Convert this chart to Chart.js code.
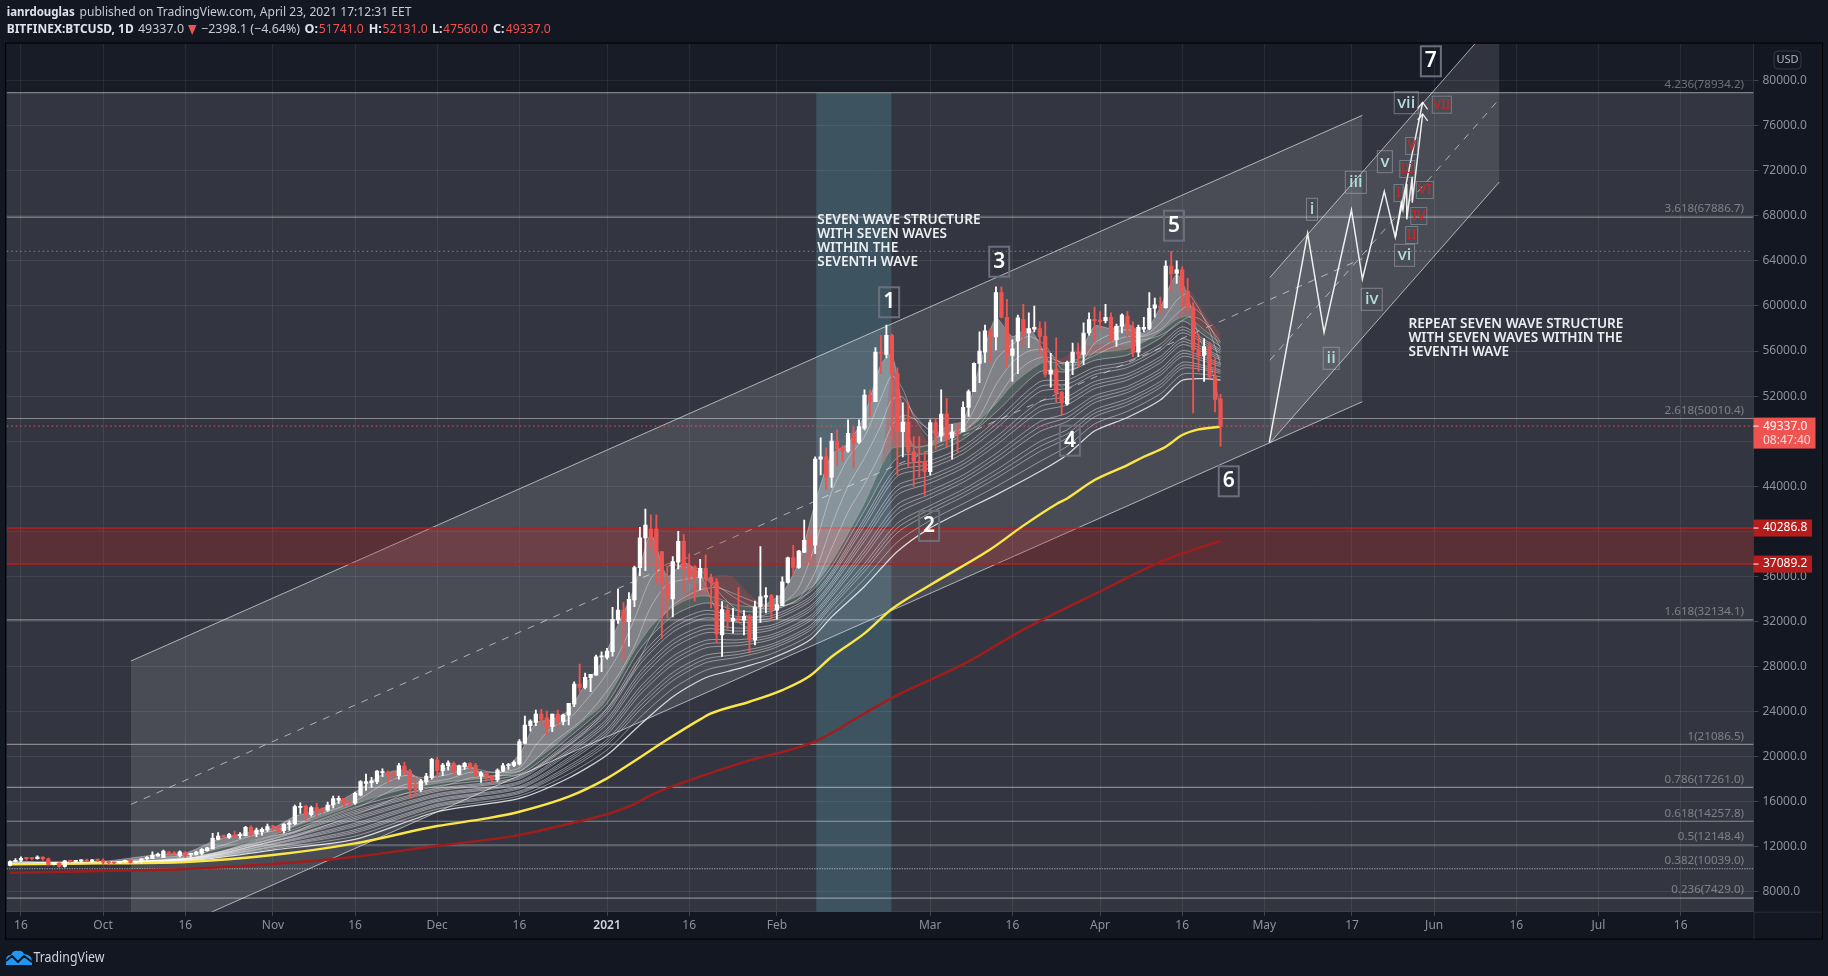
<!DOCTYPE html>
<html><head><meta charset="utf-8">
<style>html,body{margin:0;padding:0;background:#131722;overflow:hidden}canvas{display:block}</style>
<script src="https://cdn.jsdelivr.net/npm/chart.js@4/dist/chart.umd.min.js"></script>
</head><body><canvas id="c" width="1828" height="976"></canvas>
<script>
// ---------- axes ----------
const xMin=-2.6, xMax=316.3, yMin=6226, yMax=83258;
const tickDays=[0,15,30,46,61,76,91,107,122,138,166,181,197,212,227,243,258,273,288,303];
const tickLabels=["16","Oct","16","Nov","16","Dec","16","2021","16","Feb","Mar","16","Apr","16","May","17","Jun","16","Jul","16"];
const priceTicks=[8000,12000,16000,20000,24000,28000,32000,36000,40000,44000,48000,52000,56000,60000,64000,68000,72000,76000,80000];
// ---------- candles, first day is -2 (14 Sep 2020) ----------
const firstDay=-2;
const opens=[
10330,10680,10790,10955,10940,10935,11080,10920,10420,10535,10240,10740,10690,10725,10775,10700,10840,
10780,10620,10575,10550,10670,10790,10600,10670,10925,10960,11160,11050,11520,11463,11225,11520,11285,11285,11390,11640,11790,12650,12940,12825,13030,12970,12970,13713,13120,13328,13476,
13770,13770,13420,13980,14040,15480,15600,14840,15480,15340,15250,15700,16130,16290,15950,15850,16580,17620,17680,17770,18570,18650,18450,18300,19160,18740,17320,17030,17770,18120,
19690,18740,19190,19395,18420,19100,19395,19250,18270,18510,18270,17915,18715,19190,19220,19336,21167,22735,23030,23770,23440,22650,23770,23090,23683,24660,26436,26140,27000,27235,28834,
28800,29307,32119,33007,31971,33895,36760,39400,40200,40200,38200,35400,33990,37260,39100,36850,36850,35900,36700,35900,35500,30800,33000,32050,32350,32100,32500,30350,33300,34150,34300,
33000,33400,35450,37650,36800,38150,39200,38770,46400,46600,44800,48000,47400,47100,48700,47900,49150,52100,51500,55900,55700,57400,54000,48850,49700,47050,46200,46200,
45300,49650,48450,50400,48300,48850,48850,51000,52400,54900,55900,57800,57250,61200,59000,55600,56900,58800,57600,57950,58000,57300,53950,54400,52350,51300,55000,55900,55700,57600,58800,
58750,58700,59000,57000,58200,59100,58000,55900,57950,58000,59800,60000,59850,63550,62900,63200,61300,59900,56100,55600,56400,53700,51741];
const highs=[
10750,10940,11100,11040,11030,11180,11090,10990,10570,10580,10780,10800,10780,10820,10900,10860,10860,
10920,10670,10600,10700,10800,10800,10680,10950,11110,11550,11430,11700,11560,11560,11640,11530,11440,11600,11820,11950,13180,13240,13030,13180,13390,13240,13800,13860,13640,13680,14010,
13900,13850,14050,14300,15700,15900,15700,15600,15850,15450,15950,16480,16490,16300,16050,16850,17860,18450,18150,18750,18900,18700,18740,19400,19480,18860,18210,18000,18500,19850,
19930,19395,19630,19540,19250,19480,19455,19395,18655,18600,18300,18900,19395,19395,19630,21500,23590,23250,24127,24216,24040,23770,24127,23770,24719,26643,28212,27400,27300,29000,29307,
29603,33244,34842,33658,34546,36900,40350,41975,41450,41450,38200,36900,37760,40000,39700,38000,36950,37500,37900,36200,35800,33750,33500,33150,35000,32950,32600,33800,38650,35000,34400,
34300,35950,37700,38750,38300,41000,39750,46600,48300,47400,48700,49000,47600,49900,49300,49900,52550,52550,56300,57400,58300,57500,54500,51400,51400,48400,48400,47100,
49900,50000,52550,51800,49500,49600,51500,52550,54950,57700,58300,58000,61700,61700,60600,57000,59200,60150,59400,60000,58600,58600,55800,57200,52400,55100,56700,56700,58500,59400,59900,
59500,60150,59400,58400,59300,59500,58600,58300,59000,61200,60700,60800,64000,64850,64000,63500,62450,60300,57500,57100,56800,55400,52150];
const lows=[
10280,10640,10670,10790,10820,10900,10780,10370,10370,10150,10190,10630,10640,10620,10690,10650,10690,
10440,10370,10500,10530,10630,10530,10550,10530,10830,10950,11150,11020,11230,11200,11110,11050,11110,11260,11260,11600,11790,12590,12740,12740,12800,12740,12950,12940,12880,13030,13330,
13450,13250,13200,13450,13950,14950,14300,14700,14700,14950,15150,15450,15840,15500,15700,15750,16500,17000,17260,17600,18210,17620,17980,18000,18420,16290,16435,16880,17530,18000,
18210,18300,18800,18510,18360,18860,18800,18210,17710,17830,17560,17800,18650,18860,19100,19250,21167,22260,22735,23000,21848,22200,22560,22800,22800,24423,25696,26000,25755,27235,27531,
28650,28922,31823,28567,29810,33303,36050,36500,38630,35300,30520,32300,32400,36650,34500,35400,33800,34800,34700,33200,30100,28900,31300,30950,31900,30800,29200,29900,31900,32750,32100,
32200,33400,35400,36050,36700,38100,37200,38000,45000,43700,43900,45800,46200,47000,45600,47800,49000,50200,51500,54000,55400,48100,45000,46600,45750,44000,44800,43200,
45000,47280,48000,47400,46400,47000,48850,50200,52400,53200,55000,54900,56100,58950,54500,53300,54000,56500,56300,57700,55600,53700,52800,51500,50300,51200,53900,54600,54800,57400,56800,
57900,58500,56800,56400,57600,57200,55500,55500,57700,57900,59000,59300,59800,61300,62000,59900,59500,50500,54200,53300,53600,50600,47560];
const closes=[
10680,10790,10955,10940,10935,11080,10920,10420,10535,10240,10740,10690,10725,10775,10700,10840,10780,
10620,10575,10550,10670,10790,10600,10670,10925,11060,11256,11337,11610,11345,11374,11550,11225,11404,11520,11760,11900,12736,12940,12880,13090,12880,13030,13713,13120,13476,13535,13772,
13750,13390,13980,14070,15550,15590,14840,15480,15100,15250,15700,16270,16290,15785,15900,16730,17770,17770,17850,18700,18650,18360,18360,19190,18650,17085,17110,17830,18270,19750,
18740,19250,19450,18600,19160,19395,19040,18300,18565,18150,17975,18800,19190,19250,19485,21320,22795,23150,23770,23300,22650,23770,23090,23683,24719,26436,26140,27028,27300,28863,28922,
29366,32178,33007,31971,33954,36766,39428,40560,39400,38130,35400,34050,37300,39100,36650,36000,35850,36700,35750,35450,30880,33050,32000,32300,32250,32450,30350,33300,34200,34300,33000,
33500,35500,37650,36800,38250,39200,38770,46400,46600,44800,48000,47300,47100,48700,47800,49300,52100,51500,55900,55800,57400,54000,48850,49700,47050,46200,46100,45300,
49650,48450,50400,48250,48800,48700,51000,52400,54900,56000,57800,57250,61200,59000,55600,56200,58950,57600,58000,58100,57300,53950,54300,52300,51400,55000,55900,55750,57600,58800,58700,
58600,59000,56900,58200,59200,58000,55900,58100,58100,59800,60100,59850,63550,62850,63200,61300,59900,56100,55600,56400,53700,51700,49337];
// ---------- moving averages ----------
const yellowDays=[-2,15,30,46,61,76,85,91,100,107,112,117,124,126,133,139,144,148,154,159,166,177,183,189,191,196,202,205,209,212,215,219];
const yellowValues=[10425,10514,10632,11254,12290,13830,14510,15100,16434,18062,19600,21200,23300,23829,24865,25901,27144,28861,30933,33100,35230,38400,40500,42400,42917,44545,45877,46617,47505,48541,49044,49281];
const redDays=[-2,15,30,46,61,76,91,99,107,112,115,124,132,145,152,154,160,172,183,198,209,219];
const redValues=[9685,9833,10011,10455,11106,12083,13030,13918,14895,15783,16582,18210,19500,21350,23237,23829,25450,28180,31270,34900,37480,39150];
// ---------- fast ribbon ----------
const fastDays=[-2,5,15,25,30,36,42,46,50,54,58,62,66,70,74,78,82,86,91,94,97,100,103,106,109,112,115,118,121,124,127,130,133,136,139,142,145,148,151,154,157,159,161,163,166,169,172,175,178,181,184,187,190,193,196,199,202,205,208,211,213,215,217,219];
const fast1=[10700,10650,10700,11300,11430,12650,13300,13650,14700,15200,16000,17150,18400,18800,17800,19100,19100,18200,20200,23000,23300,24100,26400,28400,31700,35000,39700,36000,37200,36200,33000,32200,31500,33500,34500,37300,42500,46800,47800,50300,54800,55700,50800,47500,47800,49400,49800,54600,58900,57300,58000,55700,52800,55300,58200,58000,58400,57600,59900,62800,60900,57300,55100,50900];
const fast2=[10650,10620,10640,11000,11250,12000,12950,13400,13900,14800,15450,16300,17500,18300,18100,18400,19000,18600,19000,21000,22600,23300,24900,26700,29000,32200,35800,37100,36800,36600,34800,33300,32400,32600,33500,35000,38800,43500,46500,48400,51800,53800,52600,50200,48300,48700,49200,51800,55200,56600,57300,56500,54400,54600,56700,57500,57900,57400,58500,60500,61100,59800,57800,54800];
const fast3=[10620,10600,10610,10800,11100,11500,12400,12950,13300,14200,14900,15600,16600,17500,17700,18000,18600,18600,18700,19800,21200,22300,23500,25200,27200,29800,33300,35300,35700,35900,35200,34200,33400,33100,33300,34000,36400,40500,44000,46500,49400,51700,51900,50400,48900,48600,48900,50200,53000,55000,56000,56100,54900,54800,55900,56800,57300,57300,57900,59300,60000,59500,58200,56200];
const fast4=[10580,10570,10580,10700,10950,11300,12000,12500,12900,13600,14300,15000,15800,16700,17000,17500,18100,18300,18400,19000,20000,21000,22200,23700,25500,27700,30700,33000,34100,34800,35000,34500,33900,33400,33400,33800,35400,38500,41700,44200,47000,49400,50300,50000,49000,48700,48800,49500,51600,53700,55000,55500,55000,55000,55600,56300,56800,57000,57400,58300,59000,58900,58100,56800];
const slowTop=[10500,10510,10560,10870,11000,11800,12500,13000,13800,14500,15200,15950,16600,17100,17450,17750,17950,18150,18650,19700,20800,22050,23300,24500,26800,29400,31500,32900,33800,34250,34100,33500,33300,33300,33700,34300,35300,37300,39800,42500,45700,47350,47500,47550,47600,48100,48800,49900,51300,53000,54200,55050,54900,55300,55800,56000,56200,56800,57700,58800,59100,58300,57500,56700];
const redBand=[10500,10510,10560,10870,11000,11800,12500,13000,13800,14500,15200,15950,16600,17100,17450,17750,17950,18150,18650,19700,20800,22050,23300,24500,26800,29400,31500,32900,34200,35400,36100,35950,34400,33500,33750,34300,35300,37300,39800,42500,45700,54400,52100,50400,47700,48100,48800,49900,51300,53000,54200,55050,55350,56300,56530,56680,56400,56800,57700,58800,61500,60200,58750,57570];
// ---------- slow ribbon ----------
const slowDays=[-2,30,46,61,76,91,100,107,113,119,125,131,137,144,148,154,160,166,172,178,186,191,196,202,208,212,216,219];
const slow1=[10494,10975,12882,15514,17373,18435,21691,24739,29527,32482,33636,32936,32927,34576,36855,41827,46564,46936,48164,50566,54164,54164,55173,55645,57150,58673,57414,56402];
const slow2=[10488,10950,12764,15228,17146,18220,21332,24278,28854,31764,32972,32422,32504,34152,36410,41154,45728,46272,47528,49832,53278,53428,54546,55090,56600,58146,57028,56104];
const slow2b=[10485,10938,12705,15085,17033,18113,21152,24048,28518,31405,32640,32165,32292,33940,36188,40818,45310,45940,47210,49465,52835,53060,54233,54813,56325,57883,56835,55955];
const slow3=[10482,10925,12646,14942,16919,18005,20973,23817,28181,31046,32308,31908,32081,33728,35965,40481,44892,45608,46892,49098,52392,52692,53919,54535,56050,57619,56642,55806];
const slow4=[10476,10900,12528,14656,16692,17790,20614,23356,27508,30328,31644,31394,31658,33304,35520,39808,44056,44944,46256,48364,51506,51956,53292,53980,55500,57092,56256,55508];
const slow4b=[10473,10888,12469,14513,16579,17683,20434,23126,27172,29969,31312,31137,31446,33092,35298,39472,43638,44612,45938,47997,51063,51588,52979,53703,55225,56829,56063,55359];
const slow5=[10470,10875,12410,14370,16465,17575,20255,22895,26835,29610,30980,30880,31235,32880,35075,39135,43220,44280,45620,47630,50620,51220,52665,53425,54950,56565,55870,55210];
const slow6=[10464,10850,12292,14084,16238,17360,19896,22434,26162,28892,30316,30366,30812,32456,34630,38462,42384,43616,44984,46896,49734,50484,52038,52870,54400,56038,55484,54912];
const slow6b=[10461,10838,12233,13941,16125,17253,19716,22204,25826,28533,29984,30109,30600,32244,34408,38126,41966,43284,44666,46529,49291,50116,51725,52593,54125,55775,55291,54763];
const slow7=[10458,10825,12174,13798,16011,17145,19537,21973,25489,28174,29652,29852,30389,32032,34185,37789,41548,42952,44348,46162,48848,49748,51411,52315,53850,55511,55098,54614];
const slow8=[10452,10800,12056,13512,15784,16930,19178,21512,24816,27456,28988,29338,29966,31608,33740,37116,40712,42288,43712,45428,47962,49012,50784,51760,53300,54984,54712,54316];
const slow8b=[10449,10788,11997,13369,15671,16823,18998,21282,24480,27097,28656,29081,29754,31396,33518,36780,40294,41956,43394,45061,47519,48644,50471,51483,53025,54721,54519,54167];
const slow9=[10446,10775,11938,13226,15557,16715,18819,21051,24143,26738,28324,28824,29543,31184,33295,36443,39876,41624,43076,44694,47076,48276,50157,51205,52750,54457,54326,54018];
const slow10=[10440,10750,11820,12940,15330,16500,18460,20590,23470,26020,27660,28310,29120,30760,32850,35770,39040,40960,42440,43960,46190,47540,49530,50650,52200,53930,53940,53720];
const slowBottom=[10430,10721,11700,12650,15100,16290,18100,20134,22800,25300,27000,27800,28700,30340,32400,35100,38200,40300,41800,43230,45300,46800,48900,50100,51650,53400,53550,53425];
const slowGroup=[slow2,slow2b,slow3,slow4,slow4b,slow5,slow6,slow6b,slow7,slow8,slow8b,slow9,slow10];
// ---------- drawings ----------
const bigChannelDays=[20.08,244.9];
const bigUpper=[28482,76928], bigMid=[15751,64215], bigLower=[3020,51502];
const newChannelDays=[228,269.9];
const newUpper=[62528,85744], newMid=[55181,78375], newLower=[47835,71007];
const waveDays=[227.9,234.9,237.9,242.9,244.9,248.9,250.9,255.9];
const waveValues=[47897,66452,57662,68521,62395,70181,66097,78082];
const subDays=[250.9,252,252.3,253,253,254,254,255.9];
const subValues=[66097,69169,68525,70829,67695,71477,69169,77044];
const fibLevels=[78934.2,67886.7,50010.4,32134.1,21086.5,17261,14257.8,12148.4,10039,7429];
const fibNames=["4.236","3.618","2.618","1.618","1","0.786","0.618","0.5","0.382","0.236"];
const highLine=64855, lastPrice=49337, zoneTop=40286.8, zoneBottom=37089.2;
const blueZoneDays=[145.2,158.9];
const waveNumbers=["1","2","3","4","5","6","7"];
const waveNumberDays=[158.5,165.8,178.6,191.5,210.5,220.5,257.4];
const waveNumberValues=[60327,40470,63931,48040,67127,44435,81722];
const minorNames=["i","ii","iii","iv","v","vi","vii"];
const minorDays=[235.7,239.2,243.7,246.6,249,252.6,252.9];
const minorValues=[68583,55355,70980,60593,72809,64499,78047];
const subNames=["I","II","III","IV","V","VI","VII"];
const subLabelDays=[251.5,253.9,253.1,255.2,253.9,256.3,259.4];
const subLabelValues=[70030,66301,72161,67988,74203,70296,77869];
const noteA=["SEVEN WAVE STRUCTURE","WITH SEVEN WAVES","WITHIN THE","SEVENTH WAVE"];
const noteB=["REPEAT SEVEN WAVE STRUCTURE","WITH SEVEN WAVES WITHIN THE","SEVENTH WAVE"];

// ---------- build ----------
const FONT='"Noto Sans"';
const WHITE='#ffffff', DOWN='#ef5350';
const pts=(xs,ys)=>xs.map((x,i)=>({x,y:ys[i]}));
const datasets=[];
function add(o){o.order=1000-datasets.length;datasets.push(o);return datasets.length-1;}
function line(xs,ys,color,width,extra){
  return add(Object.assign({type:'line',data:pts(xs,ys),borderColor:color,borderWidth:width,pointRadius:0,fill:false,tension:0},extra||{}));
}
const span=[xMin,xMax];
// channels
const bigLow=line(bigChannelDays,bigLower,'rgba(255,255,255,.6)',1);
line(bigChannelDays,bigUpper,'rgba(255,255,255,.6)',1,{fill:{target:bigLow,above:'rgba(255,255,255,.113)',below:'rgba(255,255,255,.113)'}});
line(bigChannelDays,bigMid,'rgba(255,255,255,.55)',1,{borderDash:[7,7]});
const newLow=line(newChannelDays,newLower,'rgba(255,255,255,.6)',1);
line(newChannelDays,newUpper,'rgba(255,255,255,.6)',1,{fill:{target:newLow,above:'rgba(255,255,255,.11)',below:'rgba(255,255,255,.11)'}});
line(newChannelDays,newMid,'rgba(255,255,255,.55)',1,{borderDash:[7,7]});
// zone + levels
const zb=line(span,[zoneBottom,zoneBottom],'#b71c1c',1.5);
line(span,[zoneTop,zoneTop],'#b71c1c',1.5,{fill:{target:zb,above:'rgba(212,28,26,.24)',below:'rgba(212,28,26,.24)'}});
fibLevels.forEach(v=>line(span,[v,v],v===10039?'rgba(255,255,255,.6)':'rgba(255,255,255,.42)',1.2,v===10039?{borderDash:[1.2,1.3]}:{}));
line([xMin,315.9],[highLine,highLine],'rgba(255,255,255,.38)',1,{borderDash:[1.5,3]});
line(span,[lastPrice,lastPrice],'#ef5350',1,{borderDash:[1.5,3]});
// ribbon
const T=.25;
const gLine=line(fastDays,slowTop,'rgba(170,200,175,.45)',1,{tension:T});
const s1Line=line(slowDays,slow1,'rgba(255,255,255,.42)',1,{tension:T});
// green band on top of the slow group
line(fastDays,slowTop,'rgba(0,0,0,0)',0,{tension:T,fill:{target:s1Line,above:'rgba(120,170,135,.2)',below:'rgba(0,0,0,0)'}});
slowGroup.forEach(a=>line(slowDays,a,'rgba(255,255,255,.42)',1,{tension:T}));
line(slowDays,slowBottom,'rgba(255,255,255,.8)',1.2,{tension:T});
line(fastDays,fast1,'rgba(255,255,255,.3)',1,{tension:T,fill:{target:gLine,above:'rgba(255,255,255,.3)',below:'rgba(0,0,0,0)'}});
line(fastDays,redBand,'rgba(0,0,0,0)',0,{tension:T,fill:{target:gLine,above:'rgba(205,65,65,.27)',below:'rgba(0,0,0,0)'}});
[fast2,fast3,fast4].forEach(a=>line(fastDays,a,'rgba(255,255,255,.35)',1,{tension:T}));
// long averages
line(redDays,redValues,'#a31c1c',2.4,{cubicInterpolationMode:'monotone'});
line(yellowDays,yellowValues,'#fbe647',2.4,{cubicInterpolationMode:'monotone'});
// candles
const candleDays=closes.map((_,i)=>firstDay+i);
const col=ctx=>closes[ctx.dataIndex]>=opens[ctx.dataIndex]?WHITE:DOWN;
add({type:'bar',grouped:false,barThickness:1.2,borderWidth:0,backgroundColor:col,data:candleDays.map((x,i)=>({x,y:[lows[i],highs[i]]}))});
add({type:'bar',grouped:false,barThickness:3.6,borderWidth:0,minBarLength:1.2,backgroundColor:col,data:candleDays.map((x,i)=>({x,y:[opens[i],closes[i]]}))});
// projected waves
line(waveDays,waveValues,'rgba(255,255,255,.9)',1.5);
line(subDays,subValues,'rgba(255,255,255,.9)',1.5);

function txt(c,s,x,y,font,color,align,maxW){
  c.font=font;c.fillStyle=color;c.textAlign=align||'left';c.textBaseline='middle';
  if(maxW)c.fillText(s,x,y,maxW);else c.fillText(s,x,y);
}
function frame(c,x,y,w,h,color,lw){c.strokeStyle=color;c.lineWidth=lw;c.strokeRect(x-w/2,y-h/2,w,h);}
const artwork={
  id:'artwork',
  beforeDraw(ch){
    const c=ch.ctx,a=ch.chartArea;
    c.save();
    c.fillStyle='#131722';c.fillRect(0,0,1828,976);
    c.fillStyle='#181c27';c.fillRect(a.left,a.top,a.right-a.left,a.bottom-a.top);
    c.restore();
  },
  beforeDatasetsDraw(ch){
    const c=ch.ctx,a=ch.chartArea,x=ch.scales.x,y=ch.scales.y;
    c.save();
    const top=y.getPixelForValue(fibLevels[0]);
    c.fillStyle='rgba(255,255,255,.117)';c.fillRect(a.left,top,a.right-a.left,a.bottom-top);
    const l=x.getPixelForValue(blueZoneDays[0]),r=x.getPixelForValue(blueZoneDays[1]);
    c.fillStyle='rgba(91,151,171,.3)';c.fillRect(l,top,r-l,a.bottom-top);
    c.restore();
  },
  afterDraw(ch){
    const c=ch.ctx,a=ch.chartArea,x=ch.scales.x,y=ch.scales.y;
    const X=v=>x.getPixelForValue(v),Y=v=>y.getPixelForValue(v);
    c.save();
    // frame
    c.strokeStyle='#000';c.lineWidth=1;c.strokeRect(5.5,43,1817,896);
    c.strokeStyle='#2a2e39';c.beginPath();c.moveTo(a.right+.5,a.bottom);c.lineTo(a.right+.5,939);c.moveTo(a.right,a.bottom+.5);c.lineTo(1822,a.bottom+.5);c.stroke();
    // fib labels
    fibLevels.forEach((v,i)=>{
      txt(c,fibNames[i]+'('+v.toFixed(1)+')',1744,Y(v)-8,'11.6px '+FONT,'rgba(255,255,255,.36)','right');
    });
    // notes
    noteA.forEach((s,i)=>txt(c,s,817.3,220+i*14,'600 13.6px '+FONT,'#eceff1','left'));
    noteB.forEach((s,i)=>txt(c,s,1408.4,324.3+i*14,'600 13.6px '+FONT,'#eceff1','left'));
    // wave numbers
    waveNumbers.forEach((s,i)=>{
      const px=X(waveNumberDays[i]),py=Y(waveNumberValues[i]);
      frame(c,px,py,20,30,'#6b6f7b',2);
      txt(c,s,px,py,'600 21px '+FONT,'#ffffff','center');
    });
    // minor labels
    const mw=[11,16,21,21,15,20,24];
    minorNames.forEach((s,i)=>{
      const px=X(minorDays[i]),py=Y(minorValues[i]);
      frame(c,px,py,mw[i],22,'rgba(190,195,205,.45)',1);
      txt(c,s,px,py,'500 17px '+FONT,'#b2dfdb','center',mw[i]-2);
    });
    const sw=[9,12,15,16,12,17,19];
    subNames.forEach((s,i)=>{
      const px=X(subLabelDays[i]),py=Y(subLabelValues[i]);
      frame(c,px,py,sw[i],17,'rgba(190,195,205,.4)',1);
      txt(c,s,px,py,'500 14px '+FONT,'#c62828','center',sw[i]-2);
    });
    // arrow heads
    c.strokeStyle='rgba(255,255,255,.9)';c.lineWidth=1.3;
    [[waveDays[7],waveValues[7]],[subDays[7],subValues[7]]].forEach(p=>{
      const px=X(p[0]),py=Y(p[1]);
      c.beginPath();c.moveTo(px-5,py+6);c.lineTo(px,py);c.lineTo(px+5,py+7);c.stroke();
    });
    // price scale tags
    const tag=(v,bg,w,h,dy)=>{c.fillStyle=bg;c.fillRect(a.right,Y(v)-dy,w,h);c.fillStyle='#fff';c.fillRect(a.right,Y(v)-.5,5,1);};
    tag(lastPrice,'#ef5350',62,31,8.5);
    txt(c,'49337.0',1763,Y(lastPrice),'12px '+FONT,'#ffffff');
    txt(c,'08:47:40',1763,Y(lastPrice)+14,'12px '+FONT,'rgba(255,255,255,.8)');
    tag(zoneTop,'#b71c1c',58.5,17,8.5);
    txt(c,'40286.8',1763,Y(zoneTop),'12px '+FONT,'#ffffff');
    tag(zoneBottom,'#b71c1c',58.5,17,8.5);
    txt(c,'37089.2',1763,Y(zoneBottom),'12px '+FONT,'#ffffff');
    // USD
    c.strokeStyle='#363a45';c.lineWidth=1;c.beginPath();c.roundRect(1774,51,27,18,4);c.stroke();
    txt(c,'USD',1787.5,60,'11px '+FONT,'#b2b5be','center');
    // header
    const hf='12.5px '+FONT,hb='bold 12.5px '+FONT,grey='#c8cbd3',red='#ef5350';
    txt(c,'ianrdouglas',6.7,12.7,hb,'#e0e3eb','left',68);
    txt(c,'published on TradingView.com, April 23, 2021 17:12:31 EET',79.5,12.7,hf,grey,'left',332);
    txt(c,'BITFINEX:BTCUSD, 1D',6.7,29.7,hb,'#e0e3eb','left',127);
    txt(c,'49337.0',138,29.7,hf,grey,'left',46);
    c.fillStyle='#ef5350';c.beginPath();c.moveTo(188,25);c.lineTo(196.5,25);c.lineTo(192.2,35);c.fill();
    txt(c,'\u22122398.1 (\u22124.64%)',201,29.7,hf,grey,'left',99);
    [['O:',304.5,'51741.0',318.8],['H:',368.8,'52131.0',382.6],['L:',432,'47560.0',443],['C:',493,'49337.0',505.8]].forEach(r=>{
      txt(c,r[0],r[1],29.7,hb,'#e0e3eb');
      txt(c,r[2],r[3],29.7,hf,red,'left',45);
    });
    // logo
    c.fillStyle='#2196f3';
    c.beginPath();c.moveTo(6,965);c.lineTo(6,960);c.quadraticCurveTo(6,955,11,955);c.quadraticCurveTo(13,950,18,951);c.quadraticCurveTo(22,950,24,954);c.quadraticCurveTo(32,955,32,961);c.lineTo(32,965);c.closePath();c.fill();
    c.strokeStyle='#131722';c.lineWidth=2;c.lineJoin='round';c.beginPath();c.moveTo(6,961);c.lineTo(12,956);c.lineTo(18,962);c.lineTo(24,956);c.lineTo(32,962);c.stroke();
    txt(c,'TradingView',33.5,957.7,'14px '+FONT,'#d1d4dc','left',71);
    c.restore();
  }
};

new Chart(document.getElementById('c'),{
  type:'bar',
  data:{datasets},
  plugins:[artwork],
  options:{
    responsive:false,animation:false,devicePixelRatio:1,
    layout:{padding:{left:6.7,right:6,top:44,bottom:37}},
    plugins:{legend:{display:false},tooltip:{enabled:false},title:{display:false}},
    scales:{
      x:{type:'linear',offset:false,min:xMin,max:xMax,
        grid:{offset:false,color:'rgba(255,255,255,.075)',tickColor:'rgba(255,255,255,.2)',tickLength:4},
        border:{color:'#2a2e39'},
        afterBuildTicks(s){s.ticks=tickDays.map(value=>({value}));},
        afterFit(s){s.height=27.3;},
        ticks:{autoSkip:false,maxRotation:0,padding:3,
          color:c=>c.tick&&c.tick.value===107?'#d1d4dc':'#8e9199',
          font:c=>({family:FONT,size:12,weight:c.tick&&c.tick.value===107?'600':'400'}),
          callback:v=>tickLabels[tickDays.indexOf(v)]}},
      y:{type:'linear',position:'right',min:yMin,max:yMax,
        grid:{color:'rgba(255,255,255,.075)',tickColor:'rgba(255,255,255,.2)',tickLength:5},
        border:{color:'#2a2e39'},
        afterBuildTicks(s){s.ticks=priceTicks.map(value=>({value}));},
        afterFit(s){s.width=68.5;},
        ticks:{autoSkip:false,padding:4,color:'#8e9199',font:{family:FONT,size:12},callback:v=>v.toFixed(1)}}
    }
  }
});
</script></body></html>
